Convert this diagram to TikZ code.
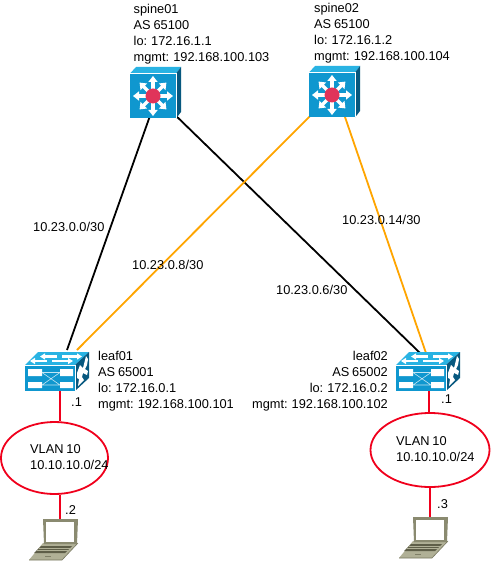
\documentclass[tikz,border=0pt]{standalone}
\usepackage{fontspec}
\setmainfont[WordSpace=0.8]{Liberation Sans}
\definecolor{ciscoblue}{HTML}{0F97CF}
\definecolor{ciscotop}{HTML}{29B3E3}
\definecolor{ciscoside}{HTML}{07587F}
\definecolor{hubred}{HTML}{E0345A}
\definecolor{linkorange}{HTML}{FFA500}
\definecolor{lanred}{HTML}{F0001C}
\definecolor{lapframe}{HTML}{8A8A70}
\definecolor{lapbase}{HTML}{B0B096}
\definecolor{lapdark}{HTML}{5E5E48}
\usetikzlibrary{shapes.geometric,arrows.meta}
\tikzset{
  x=1pt,y=-1pt,
  txt/.style={font=\fontsize{12.8}{16}\selectfont,inner sep=0pt,align=left,text=black},
  anchorbox/.style={inner sep=0pt,minimum size=1pt},
  blacklink/.style={draw=black,line width=1.8pt},
  orangelink/.style={draw=linkorange,line width=1.8pt},
  redlink/.style={draw=lanred,line width=1.8pt},
  lan/.style={ellipse,draw=lanred,line width=1.8pt,fill=white,inner sep=0pt},
  whitearrow/.style={draw=white,line width=3.2pt,-{Triangle[width=9pt,length=6pt]},white},
  toparrow/.style={draw=white,line width=2.4pt,-{Triangle[width=6pt,length=5pt]}},
  spine/.pic={
    \fill[ciscotop] (-23,-22.5) -- (-17,-29) -- (28,-29) -- (23,-22.5) -- cycle;
    \fill[ciscoside] (23,-22.5) -- (28,-29) -- (28,16) -- (23,22.5) -- cycle;
    \fill[ciscoblue] (-23,-22.5) rectangle (23,22.5);
    \draw[white,line width=.4pt] (-23,-22.5) -- (23,-22.5) -- (23,22.5);
    \foreach \a in {0,90,180,270}
      \draw[whitearrow] (0,0) -- (\a:20);
    \foreach \a in {45,135,225,315}
      \draw[whitearrow] (0,0) -- (\a:19);
    \fill[hubred] (0,0) circle (7.5);
  },
  leaf/.pic={
    % origin = front face top-left
    \fill[ciscotop] (0,0) -- (13,-13) -- (64,-13) -- (50,0) -- cycle;
    \fill[ciscoside] (50,0) -- (64,-13) -- (64,13) -- (50,26) -- cycle;
    \fill[ciscoblue] (0,0) rectangle (50,26);
    \draw[white,line width=.4pt] (0,0) -- (50,0) -- (50,26);
    \fill[white] (3,4) rectangle (17,11) (35,4) rectangle (48,11)
                 (3,17) rectangle (17,23) (35,17) rectangle (48,23);
    \draw[white!75!ciscoblue,line width=.6pt] (17,7.5) -- (35,7.5) (17,20) -- (35,20)
      (17,7.5) -- (35,20) (17,20) -- (35,7.5);
    \fill[white] (52,8) -- (55,0) -- (58,3) -- (61,-9) -- (63,-6) -- (62,0) -- (60,4) -- (63,6) -- (62,10) -- (58,8) -- (57,12) -- (59,15) -- (53,21) -- (54,14) -- (52,13) -- cycle;
    \draw[toparrow] (32,-8.5) -- (15,-8.5);
    \draw[toparrow] (37,-8.5) -- (57,-8.5);
    \draw[toparrow] (22,-4) -- (5,-4);
    \draw[toparrow] (27,-4) -- (48,-4);
  },
  laptop/.pic={
    % origin = screen top-left
    \fill[lapbase] (0,24) -- (35,24) -- (19,41) -- (-14,41) -- cycle;
    \fill[lapdark] (-2,27) -- (29,27) -- (22,34) -- (-9,34) -- cycle;
    \draw[lapbase,line width=.6pt] (-4,29.3) -- (27,29.3) (-6,31.7) -- (25,31.7);
    \draw[lapdark!70!lapbase,line width=.6pt] (-14,41) -- (19,41) -- (35,24);
    \draw[lapdark!60!lapbase,line width=.5pt] (2,37.5) -- (8,37.5);
    \fill[lapframe] (0,0) -- (35,0) -- (34,25) -- (1,25) -- cycle;
    \fill[white] (3,3) rectangle (31,22.5);
  }
}
\begin{document}
\begin{tikzpicture}
\useasboundingbox (0,0) rectangle (492,561);
\fill[white] (0,0) rectangle (492,561);
% connection points
\node[anchorbox] (spineA) at (153,96) {};
\node[anchorbox] (spineB) at (332,95) {};
\node[anchorbox] (leafA) at (60,378) {};
\node[anchorbox] (leafB) at (429,378) {};
\coordinate (sAb) at (151,113);
\coordinate (sAc) at (170,110);
\coordinate (sBa) at (316,110);
\coordinate (sBb) at (342.6,110);
\coordinate (lAb) at (67,350);
\coordinate (lAc) at (77,350);
\coordinate (lBb) at (420,353);
\coordinate (lBc) at (427,356);
% links
\draw[blacklink] (sAb) -- (lAb);
\draw[blacklink] (sAc) -- (lBb);
\draw[orangelink] (sBa) -- (lAc);
\draw[orangelink] (sBb) -- (lBc);
% LAN
\node[lan,minimum width=107pt,minimum height=72pt] (lanA) at (54.5,458) {};
\node[lan,minimum width=119pt,minimum height=74pt] (lanB) at (430,450) {};
\coordinate (lapA) at (60,522);
\coordinate (lapB) at (430,518);
\draw[redlink] (leafA) -- (lanA.north -| leafA);
\draw[redlink] (leafB) -- (lanB.north -| leafB);
\draw[redlink] (lanA.south -| lapA) -- (lapA);
\draw[redlink] (lanB.south -| lapB) -- (lapB);
% icons
\pic at (spineA) {spine};
\pic at (spineB) {spine};
\pic at (25,365) {leaf};
\pic at (396,365) {leaf};
\pic at (43,519) {laptop};
\pic at (413,517) {laptop};
% texts
\node[txt,anchor=north west] (tS1) at (133.5,4) {spine01\\AS 65100\\lo: 172.16.1.1\\mgmt: 192.168.100.103};
\node[txt,anchor=north west] (tS2) at (314,3) {spine02\\AS 65100\\lo: 172.16.1.2\\mgmt: 192.168.100.104};
\node[txt,anchor=north west] (tL1) at (98,351) {leaf01\\AS 65001\\lo: 172.16.0.1\\mgmt: 192.168.100.101};
\node[txt,anchor=north east,align=right] (tL2) at (388,351) {leaf02\\AS 65002\\lo: 172.16.0.2\\mgmt: 192.168.100.102};
\node[txt,anchor=west] (e1) at (33,227) {10.23.0.0/30};
\node[txt,anchor=west] (e2) at (132,265) {10.23.0.8/30};
\node[txt,anchor=west] (e3) at (342,220) {10.23.0.14/30};
\node[txt,anchor=west] (e4) at (276,290) {10.23.0.6/30};
\node[txt,anchor=west] (d1) at (71,402) {.1};
\node[txt,anchor=west] (d2) at (65,510) {.2};
\node[txt,anchor=west] (d3) at (441,399) {.1};
\node[txt,anchor=west] (d4) at (437,504) {.3};
\node[txt,anchor=north west] (v1) at (30,444) {VLAN 10\\10.10.10.0/24};
\node[txt,anchor=north west] (v2) at (396,436) {VLAN 10\\10.10.10.0/24};
\end{tikzpicture}
\end{document}
